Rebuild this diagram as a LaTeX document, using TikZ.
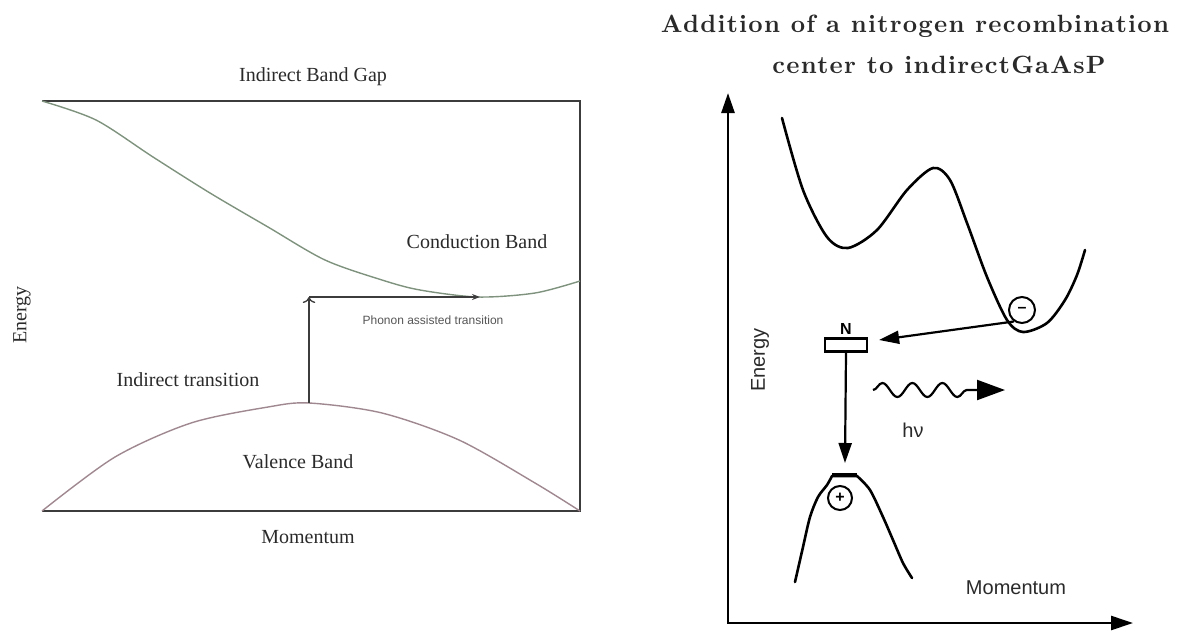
\documentclass[tikz,border=0pt]{standalone}
\usepackage{fontspec}
\setsansfont{Liberation Sans}
\newfontfamily\timesfont{Liberation Serif}
\newfontfamily\ttlfont{lmroman10-bold.otf}[LetterSpace=5]
\usetikzlibrary{arrows.meta, positioning, decorations.pathmorphing}
\definecolor{cframe}{HTML}{3C3C3C}
\definecolor{ccond}{HTML}{7E927E}
\definecolor{cval}{HTML}{A08890}
\definecolor{ctext}{HTML}{2A2A2A}
\tikzset{
  frame/.style={draw=cframe, line width=1.5pt},
  band/.style={draw=#1, line width=1.4pt},
  trans/.style={draw=cframe, line width=1.3pt},
  lbl/.style={font=\timesfont\fontsize{20}{24}\selectfont, text=ctext, inner sep=0pt},
  slbl/.style={font=\sffamily\fontsize{20}{24}\selectfont, text=ctext, inner sep=0pt},
  ttl/.style={font=\ttlfont\fontsize{25}{30}\selectfont, text=ctext, inner sep=0pt, anchor=base},
  bigband/.style={line width=2.6pt, line join=round, line cap=round},
  axis/.style={line width=2.6pt, {Triangle[length=20pt, width=13pt]}-{Triangle[length=22pt, width=14pt]}},
  rarrow/.style={line width=2.2pt, -{Triangle[length=20pt, width=13pt]}},
  wave/.style={line width=2.2pt, decorate, decoration={snake, segment length=30pt, amplitude=7pt, post length=30pt}, -{Triangle[length=28pt, width=20pt]}},
  charge/.style={circle, draw, line width=2pt, inner sep=0pt, font=\sffamily\bfseries\fontsize{16}{16}\selectfont},
}

\begin{document}
\begin{tikzpicture}[x=1pt, y=-1pt]
  \useasboundingbox (0,0) rectangle (1178,630);
  % left: indirect band gap
  \draw[frame] (42,101) -- (580,101) -- (580,511) -- (42,511);
  \draw[band=ccond] plot[smooth] coordinates {(42,101) (96,120) (153,157) (210,193) (268,227) (325,260) (382,280) (420,290) (478,297) (535,293) (580,281)};
  \draw[band=cval] plot[smooth] coordinates {(42,511) (115,457) (191,423) (268,407) (309,403) (382,413) (459,440) (535,483) (580,511)};
  \coordinate (vpeak) at (309,403);
  \coordinate (corner) at (309,297);
  \coordinate (cmin) at (480,297);
  \draw[trans, -{To[length=6pt]}] (vpeak) -- (corner);
  \draw[trans, -{Stealth[length=8pt]}] (corner) -- (cmin);
  \node[lbl] (gaptitle) at (313,77) {Indirect Band Gap};
  \node[lbl] (cblbl) at (477,242) {Conduction Band};
  \node[lbl] (itlbl) at (188,380) {Indirect transition};
  \node[lbl] (vblbl) at (298,462) {Valence Band};
  \node[lbl] (momleft) at (308,537) {Momentum};
  \node[lbl, rotate=90] (enleft) at (22,315) {Energy};
  \node[font=\sffamily\fontsize{12}{14}\selectfont, text=ctext!80, inner sep=0pt] (phlbl) at (433,320) {Phonon assisted transition};

  % right: nitrogen centre
  \node[ttl] (title1) at (915,32) {Addition of a nitrogen recombination};
  \node[ttl] (title2) at (939,73) {center to indirectGaAsP};
  \coordinate (org) at (728,623);
  \coordinate (ytop) at (728,93);
  \coordinate (xend) at (1133,623);
  \draw[axis] (ytop) -- (org) -- (xend);
  \draw[bigband] plot[smooth] coordinates {(782,118) (803,190) (827,237) (848,248) (877,230) (907,190) (933,168) (950,180) (967,223) (987,277) (1007,320) (1023,332) (1047,323) (1065,300) (1077,275) (1085,250)};
  \draw[bigband] plot[smooth] coordinates {(795,582) (803,547) (810,517) (818,497) (827,485) (832,476)} -- plot[smooth] coordinates {(857,476) (870,490) (883,517) (893,540) (903,563) (912,578)};
  \coordinate (vcap) at (845,475);
  \draw[line width=4pt] (832,475) -- (857,475);
  \node[charge, minimum size=26pt] (el) at (1022,310) {–};
  \node[charge, minimum size=24pt] (hole) at (840,498) {+};
  \node[draw, line width=2.2pt, minimum width=42pt, minimum height=13pt, inner sep=0pt] (nbox) at (846,345) {};
  \node[font=\sffamily\bfseries\fontsize{16}{16}\selectfont, above=3pt of nbox, inner sep=0pt] (nlbl) {N};
  \draw[rarrow] (el.235) -- ([xshift=11pt, yshift=5pt]nbox.east);
  \draw[rarrow] (nbox.south) -- ([yshift=12pt]vcap);
  \coordinate (wv0) at (873,390);
  \coordinate (wv1) at (1005,390);
  \draw[wave] (wv0) -- (wv1);
  \node[slbl] (hnu) at (913,430) {hν};
  \node[slbl, rotate=90] (enright) at (760,360) {Energy};
  \node[slbl] (momright) at (1016,588) {Momentum};
\end{tikzpicture}
\end{document}
